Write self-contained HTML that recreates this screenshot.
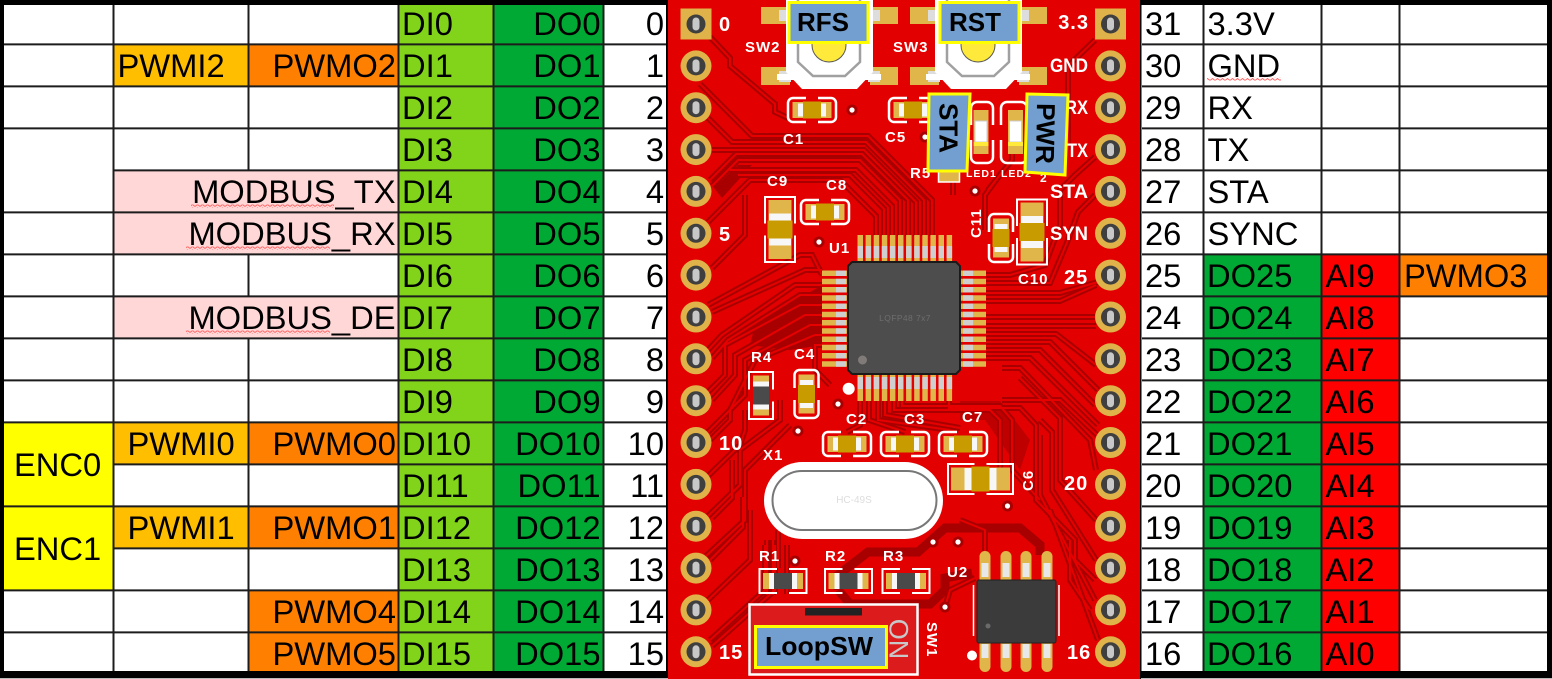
<!DOCTYPE html>
<html><head><meta charset="utf-8"><title>Pinout</title>
<style>
html,body{margin:0;padding:0;background:#000;width:1552px;height:679px;overflow:hidden}
svg{display:block}
.t{font-family:"Liberation Sans",sans-serif;font-size:32.7px;fill:#000}
.e{text-anchor:end}
.s{font-family:"Liberation Sans",sans-serif;font-weight:bold;fill:#fff;font-size:15px;letter-spacing:1px}
.p{font-family:"Liberation Sans",sans-serif;font-weight:bold;fill:#fff;font-size:20px;letter-spacing:1px}
.l{font-family:"Liberation Sans",sans-serif;font-weight:bold;fill:#000;font-size:26px}
.lb{fill:#729fcf;stroke:#ffff00;stroke-width:3}
.g{stroke:#1c1c1c;stroke-width:2}
</style></head><body>
<svg xmlns="http://www.w3.org/2000/svg" width="1552" height="679" viewBox="0 0 1552 679">
<defs>
<pattern id="w" width="5" height="3" patternUnits="userSpaceOnUse"><path d="M0 2.5L2.5 .5L5 2.5" fill="none" stroke="#f66" stroke-width="1"/></pattern>
<g id="pad"><circle r="15.5" fill="#dfb24a"/><circle r="9.5" fill="#3f3f3f"/><rect x="-3.5" y="-6.5" width="7" height="13" rx="3.5" fill="#c8c8c8"/></g>
<g id="pads"><rect x="-15.5" y="-15.5" width="31" height="31" fill="#dfb24a"/><circle r="9.5" fill="#3f3f3f"/><rect x="-3.5" y="-6.5" width="7" height="13" rx="3.5" fill="#c8c8c8"/></g>
<g id="capH"><path d="M-6 -12H-19a5 5 0 0 0-5 5V7a5 5 0 0 0 5 5H-6M6 -12H19a5 5 0 0 1 5 5V7a5 5 0 0 1-5 5H6" fill="none" stroke="#fff" stroke-width="2.5"/><rect x="-19.5" y="-8" width="39" height="16" fill="#e0b54a"/><rect x="-14" y="-6.5" width="5" height="13" fill="#f7f7f7"/><rect x="9" y="-6.5" width="5" height="13" fill="#f7f7f7"/><rect x="-9" y="-8.5" width="18" height="17" fill="#c89b00"/></g>
<g id="resH"><path d="M-6 -12H-23.5V12H-6M6 -12H23.5V12H6" fill="none" stroke="#fff" stroke-width="2"/><rect x="-20" y="-8" width="40" height="16" fill="#e0b54a"/><rect x="-14" y="-8" width="5" height="16" fill="#f7f7f7"/><rect x="9" y="-8" width="5" height="16" fill="#f7f7f7"/><rect x="-9" y="-8" width="18" height="16" fill="#4a4a4a"/></g>
<g id="capB"><path d="M-6 -15H-32.5V15H-6M6 -15H32.5V15H6" fill="none" stroke="#fff" stroke-width="2"/><rect x="-29.5" y="-11.5" width="59" height="23" fill="#e0b54a"/><rect x="-16" y="-11" width="7" height="22" fill="#f7f7f7"/><rect x="9" y="-11" width="7" height="22" fill="#f7f7f7"/><rect x="-9" y="-12.5" width="18" height="25" fill="#c89b00"/></g>
<g id="sw"><rect x="-68" y="7" width="28" height="17" fill="#e0b54a"/><rect x="41" y="7" width="28" height="17" fill="#e0b54a"/><rect x="-68" y="67" width="29" height="18" fill="#e0b54a"/><rect x="41" y="67" width="28" height="18" fill="#e0b54a"/><rect x="-50" y="10" width="12" height="11" fill="#ddd"/><rect x="39" y="10" width="12" height="11" fill="#ddd"/><rect x="-50" y="71" width="12" height="11" fill="#ddd"/><rect x="39" y="71" width="12" height="11" fill="#ddd"/><path d="M-43 0H44V72L28 89H-27L-43 72Z" fill="#fff"/><path d="M-31 0V62L-16 76H16L31 62V0" fill="none" stroke="#a0a0a0" stroke-width="2.5"/><circle cy="45" r="17" fill="#ffe93a" stroke="#555" stroke-width="1"/><rect x="-52" y="74" width="18" height="6" fill="#fff"/><rect x="34" y="74" width="18" height="6" fill="#fff"/></g>
<g id="via"><circle r="5.5" fill="#a80000"/><circle r="2.6" fill="#fff"/></g>
<g id="tr" fill="none">
<path d="M710 37L730 58V66L775 104V112L788 118"/>
<path d="M700 84L752 136H868L932 200V236"/>
<path d="M708 118L732 142H866L924 200V236"/>
<path d="M712 150H864L916 202V236"/>
<path d="M710 180L736 154H862L908 200V236"/>
<path d="M712 186L738 160H860L900 200V236"/>
<path d="M730 170H856L892 206V236"/>
<path d="M738 175H850L884 209V236"/>
<path d="M708 222L725 205L750 180H840L876 216V236"/>
<path d="M712 268L745 235L745 195"/>
<path d="M708 305L800 255L812 255L822 275"/>
<path d="M712 312L805 270H822"/>
<path d="M708 350L722 335L795 285H822"/>
<path d="M712 358L728 340L800 295H822"/>
<path d="M708 392L725 375V345L800 305H822"/>
<path d="M712 400L735 375V355L805 315H822"/>
<path d="M708 432L745 395V360L810 325H822"/>
<path d="M710 440L730 420V410L755 360L815 335H822"/>
<path d="M708 476L740 445L745 430V410"/>
<path d="M708 516L740 485V450L780 420V400"/>
<path d="M712 518L732 498V460"/>
<path d="M706 556L745 520V470L790 425"/>
<path d="M710 560L743 527V497"/>
<path d="M708 600L750 560V510"/>
<path d="M710 640L765 590V545"/>
<path d="M712 646L775 590V545"/>
<path d="M787 594V545M778 568V530"/>
<path d="M767 595V540M773 595V540"/>
<path d="M830 385L815 370V345H822"/>
<path d="M860 401V425L847 432M869 401V420L905 432M878 401V420L950 430"/>
<path d="M885 401V415L960 428M894 401V410H990L1000 420V470"/>
<path d="M902 401V406H1000L1012 420V470L1040 500"/>
<path d="M949 401V408H1020L1036 425V500L1075 540V560L1095 580"/>
<path d="M1012 120V160L988 190M953 172V195M1002 172L985 195V230"/>
<path d="M1095 40L1068 66V150"/>
<path d="M1095 157L1075 175L1060 190V225L1045 265L1010 275H986"/>
<path d="M1095 195L1078 212L1068 240L1050 283H986"/>
<path d="M1098 282L1060 293H986"/>
<path d="M1096 285L1060 301H986"/>
<path d="M1096 317H986"/>
<path d="M1096 326H986"/>
<path d="M986 334H1056L1096 365"/>
<path d="M986 342H1050L1098 390"/>
<path d="M986 350H1040L1095 405"/>
<path d="M986 358H1030L1098 425"/>
<path d="M1097 435L1060 400H1002"/>
<path d="M1002 368H1020L1090 440L1096 470"/>
<path d="M1020 378L1060 418V480L1096 520"/>
<path d="M1040 420L1052 432V490L1096 560"/>
<path d="M1040 435V495L1095 600"/>
<path d="M1050 510L1098 640"/>
<path d="M1090 610L1070 580V540"/>
<path d="M985 551V530L960 520"/>
<path d="M945 607L950 590L975 578"/>
</g>
</defs>

<rect width="1552" height="679" fill="#000"/>

<!-- left table -->
<rect x="4" y="5" width="662" height="666" fill="#fff"/>
<rect x="399" y="5" width="95" height="666" fill="#81d41a"/>
<rect x="494" y="5" width="110" height="666" fill="#00a933"/>
<rect x="114" y="44" width="135" height="42" fill="#ffbf00"/><rect x="249" y="44" width="150" height="42" fill="#ff8000"/>
<rect x="114" y="170" width="285" height="84" fill="#ffd7d7"/><rect x="114" y="296" width="285" height="42" fill="#ffd7d7"/>
<rect x="4" y="422" width="110" height="168" fill="#ffff00"/>
<rect x="114" y="422" width="135" height="42" fill="#ffbf00"/><rect x="249" y="422" width="150" height="42" fill="#ff8000"/>
<rect x="114" y="506" width="135" height="42" fill="#ffbf00"/><rect x="249" y="506" width="150" height="42" fill="#ff8000"/>
<rect x="249" y="590" width="150" height="81" fill="#ff8000"/>
<g class="g">
<path d="M4 44.4H666M4 86.4H666M4 128.4H666M114 170.4H666M4 212.4H666M4 254.4H666M4 296.4H666M4 338.4H666M4 380.4H666M4 422.4H666M114 464.4H666M4 506.4H666M114 548.4H666M4 590.4H666M4 632.4H666" fill="none"/>
<path d="M113.5 5V671M248.5 5V170M248.5 254V296M248.5 338V671M398.5 5V671M493.5 5V671M603.5 5V671" fill="none"/>
</g>
<rect x="0" y="5" width="4" height="666" fill="#000"/>

<!-- right table -->
<rect x="1141.500" y="5" width="405.500" height="666" fill="#fff"/>
<rect x="1204" y="254" width="118" height="417" fill="#00a933"/>
<rect x="1322" y="254" width="78" height="417" fill="#ff0000"/>
<rect x="1400" y="254" width="147" height="42" fill="#ff8000"/>
<g class="g">
<path d="M1142 44.400H1547M1142 86.400H1547M1142 128.400H1547M1142 170.400H1547M1142 212.400H1547M1142 254.400H1547M1142 296.400H1547M1142 338.400H1547M1142 380.400H1547M1142 422.400H1547M1142 464.400H1547M1142 506.400H1547M1142 548.400H1547M1142 590.400H1547M1142 632.400H1547" fill="none"/>
<path d="M1203.500 5V671M1321.500 5V671M1399.500 5V671" fill="none"/>
</g>
<rect x="0" y="678" width="668" height="1" fill="#bbb"/><rect x="1141" y="678" width="411" height="1" fill="#bbb"/>

<!-- left table text -->
<g class="t">
<text x="402" y="35">DI0</text><text x="402" y="77">DI1</text><text x="402" y="119">DI2</text><text x="402" y="161">DI3</text><text x="402" y="203">DI4</text><text x="402" y="245">DI5</text><text x="402" y="287">DI6</text><text x="402" y="329">DI7</text><text x="402" y="371">DI8</text><text x="402" y="413">DI9</text><text x="402" y="455">DI10</text><text x="402" y="497">DI11</text><text x="402" y="539">DI12</text><text x="402" y="581">DI13</text><text x="402" y="623">DI14</text><text x="402" y="665">DI15</text>
</g>
<g class="t e">
<text x="600.500" y="35">DO0</text><text x="600.500" y="77">DO1</text><text x="600.500" y="119">DO2</text><text x="600.500" y="161">DO3</text><text x="600.500" y="203">DO4</text><text x="600.500" y="245">DO5</text><text x="600.500" y="287">DO6</text><text x="600.500" y="329">DO7</text><text x="600.500" y="371">DO8</text><text x="600.500" y="413">DO9</text><text x="600.500" y="455">DO10</text><text x="600.500" y="497">DO11</text><text x="600.500" y="539">DO12</text><text x="600.500" y="581">DO13</text><text x="600.500" y="623">DO14</text><text x="600.500" y="665">DO15</text>
<text x="664" y="35">0</text><text x="664" y="77">1</text><text x="664" y="119">2</text><text x="664" y="161">3</text><text x="664" y="203">4</text><text x="664" y="245">5</text><text x="664" y="287">6</text><text x="664" y="329">7</text><text x="664" y="371">8</text><text x="664" y="413">9</text><text x="664" y="455">10</text><text x="664" y="497">11</text><text x="664" y="539">12</text><text x="664" y="581">13</text><text x="664" y="623">14</text><text x="664" y="665">15</text>
<text x="396" y="77">PWMO2</text><text x="396" y="455">PWMO0</text><text x="396" y="539">PWMO1</text><text x="396" y="623">PWMO4</text><text x="396" y="665">PWMO5</text>
<text x="395.500" y="203">MODBUS_TX</text><text x="395.500" y="245">MODBUS_RX</text><text x="395.500" y="329">MODBUS_DE</text>
</g>
<g class="t">
<text x="117.500" y="77">PWMI2</text><text x="127.500" y="455">PWMI0</text><text x="127.500" y="539">PWMI1</text>
<text x="14" y="476">ENC0</text><text x="14" y="560">ENC1</text>
</g>
<rect x="191" y="204.500" width="143" height="3" fill="url(#w)"/><rect x="186" y="246.500" width="144" height="3" fill="url(#w)"/><rect x="186" y="330.500" width="144" height="3" fill="url(#w)"/>

<!-- right table text -->
<g class="t">
<text x="1145" y="35">31</text><text x="1145" y="77">30</text><text x="1145" y="119">29</text><text x="1145" y="161">28</text><text x="1145" y="203">27</text><text x="1145" y="245">26</text><text x="1145" y="287">25</text><text x="1145" y="329">24</text><text x="1145" y="371">23</text><text x="1145" y="413">22</text><text x="1145" y="455">21</text><text x="1145" y="497">20</text><text x="1145" y="539">19</text><text x="1145" y="581">18</text><text x="1145" y="623">17</text><text x="1145" y="665">16</text>
<text x="1207.500" y="35">3.3V</text><text x="1207.500" y="77">GND</text><text x="1207.500" y="119">RX</text><text x="1207.500" y="161">TX</text><text x="1207.500" y="203">STA</text><text x="1207.500" y="245">SYNC</text>
<text x="1207" y="287">DO25</text><text x="1207" y="329">DO24</text><text x="1207" y="371">DO23</text><text x="1207" y="413">DO22</text><text x="1207" y="455">DO21</text><text x="1207" y="497">DO20</text><text x="1207" y="539">DO19</text><text x="1207" y="581">DO18</text><text x="1207" y="623">DO17</text><text x="1207" y="665">DO16</text>
<text x="1325.500" y="287">AI9</text><text x="1325.500" y="329">AI8</text><text x="1325.500" y="371">AI7</text><text x="1325.500" y="413">AI6</text><text x="1325.500" y="455">AI5</text><text x="1325.500" y="497">AI4</text><text x="1325.500" y="539">AI3</text><text x="1325.500" y="581">AI2</text><text x="1325.500" y="623">AI1</text><text x="1325.500" y="665">AI0</text>
<text x="1404" y="287">PWMO3</text>
</g>
<rect x="1207" y="77.500" width="74" height="3" fill="url(#w)"/>

<!-- PCB -->
<rect x="668" y="0" width="472" height="679" fill="#e20000"/>
<g fill="#a80000">
<path d="M714 188L738 165H752L722 198Z"/>
<path d="M755 325L822 285V345L790 350L750 345Z"/>
<path d="M960 401H1000L1030 440L1020 470L985 420H960Z" opacity=".6"/>
</g>
<g fill="none" stroke="#a80000" stroke-width="9">
<path d="M838 590V575L868 552H918L945 528H1020L1040 545V555"/>
<path d="M838 590L850 604H930L945 590V578L972 573"/>
</g>
<use href="#tr" stroke="#a80000" stroke-width="6"/>
<use href="#tr" stroke="#e60000" stroke-width="2"/>

<!-- pads -->
<use href="#pads" x="696" y="24"/>
<use href="#pad" x="696" y="65.900"/><use href="#pad" x="696" y="107.700"/><use href="#pad" x="696" y="149.600"/><use href="#pad" x="696" y="191.400"/><use href="#pad" x="696" y="233.300"/><use href="#pad" x="696" y="275.100"/><use href="#pad" x="696" y="317"/><use href="#pad" x="696" y="358.800"/><use href="#pad" x="696" y="400.700"/><use href="#pad" x="696" y="442.500"/><use href="#pad" x="696" y="484.400"/><use href="#pad" x="696" y="526.200"/><use href="#pad" x="696" y="568.100"/><use href="#pad" x="696" y="609.900"/><use href="#pad" x="696" y="651.800"/>
<use href="#pads" x="1110.500" y="24"/>
<use href="#pad" x="1110.500" y="65.900"/><use href="#pad" x="1110.500" y="107.700"/><use href="#pad" x="1110.500" y="149.600"/><use href="#pad" x="1110.500" y="191.400"/><use href="#pad" x="1110.500" y="233.300"/><use href="#pad" x="1110.500" y="275.100"/><use href="#pad" x="1110.500" y="317"/><use href="#pad" x="1110.500" y="358.800"/><use href="#pad" x="1110.500" y="400.700"/><use href="#pad" x="1110.500" y="442.500"/><use href="#pad" x="1110.500" y="484.400"/><use href="#pad" x="1110.500" y="526.200"/><use href="#pad" x="1110.500" y="568.100"/><use href="#pad" x="1110.500" y="609.900"/><use href="#pad" x="1110.500" y="651.800"/>

<!-- switches -->
<use href="#sw" x="829" y="0"/><use href="#sw" x="978" y="0"/>

<!-- vias -->
<use href="#via" x="852" y="110"/><use href="#via" x="925" y="137"/><use href="#via" x="975" y="191"/><use href="#via" x="819" y="242"/><use href="#via" x="838" y="404"/><use href="#via" x="798" y="431"/><use href="#via" x="1007.500" y="506"/><use href="#via" x="933" y="542"/><use href="#via" x="958" y="542"/><use href="#via" x="795" y="561"/><use href="#via" x="945" y="607"/>
<circle cx="848.700" cy="388.700" r="6" fill="#fff"/><circle cx="972" cy="655.500" r="5" fill="#fff"/>

<!-- caps -->
<use href="#capH" x="812" y="110"/><use href="#capH" x="913" y="110"/><use href="#capH" x="825" y="212"/>
<use href="#capH" x="847" y="444"/><use href="#capH" x="905" y="444"/><use href="#capH" x="963" y="444"/>
<use href="#capH" transform="translate(1001 238) rotate(90)"/><use href="#capH" transform="translate(806.500 394) rotate(90)"/>
<use href="#capB" transform="translate(780 229.500) rotate(90)"/><use href="#capB" transform="translate(1032 232) rotate(90)"/><use href="#capB" x="980.500" y="479"/>
<use href="#resH" x="783" y="581"/><use href="#resH" x="848.500" y="581"/><use href="#resH" x="906" y="581"/>
<use href="#resH" transform="translate(761 395.500) rotate(90)"/>

<!-- LEDs -->
<g fill="none" stroke="#fff" stroke-width="2.500"><path d="M971 125V108a6 6 0 0 1 6-6H987a6 6 0 0 1 6 6V125M971 140V157a6 6 0 0 0 6 6H987a6 6 0 0 0 6-6V140"/><path d="M1001 125V108a6 6 0 0 1 6-6H1021a6 6 0 0 1 6 6V125M1001 140V157a6 6 0 0 0 6 6H1021a6 6 0 0 0 6-6V140"/></g>
<rect x="973.500" y="110" width="15" height="44" fill="#e0b54a"/><rect x="975" y="121" width="12" height="21" fill="#fff" stroke="#ccc"/><rect x="973.500" y="142" width="15" height="4" fill="#ffe93a"/>
<rect x="1008" y="110" width="15" height="44" fill="#e0b54a"/><rect x="1009.500" y="121" width="12" height="21" fill="#fff" stroke="#ccc"/><rect x="1008" y="142" width="15" height="4" fill="#ffe93a"/>
<rect x="938.500" y="165" width="21" height="17" fill="#e0b54a" stroke="#fff" stroke-width="1.500"/>

<!-- U1 -->
<g fill="#e0b54a">
<path d="M857.500 235h5.500v26h-5.500zM865.600 235h5.500v26h-5.500zM873.700 235h5.500v26h-5.500zM881.800 235h5.500v26h-5.500zM889.900 235h5.500v26h-5.500zM898 235h5.500v26h-5.500zM906.100 235h5.500v26h-5.500zM914.200 235h5.500v26h-5.500zM922.300 235h5.500v26h-5.500zM930.400 235h5.500v26h-5.500zM938.500 235h5.500v26h-5.500zM946.600 235h5.500v26h-5.500z"/>
<path d="M857.500 375h5.500v26h-5.500zM865.600 375h5.500v26h-5.500zM873.700 375h5.500v26h-5.500zM881.800 375h5.500v26h-5.500zM889.900 375h5.500v26h-5.500zM898 375h5.500v26h-5.500zM906.100 375h5.500v26h-5.500zM914.200 375h5.500v26h-5.500zM922.300 375h5.500v26h-5.500zM930.400 375h5.500v26h-5.500zM938.500 375h5.500v26h-5.500zM946.600 375h5.500v26h-5.500z"/>
<path d="M822 270.500h26v5.500h-26zM822 278.700h26v5.500h-26zM822 287h26v5.500h-26zM822 295.200h26v5.500h-26zM822 303.500h26v5.500h-26zM822 311.700h26v5.500h-26zM822 320h26v5.500h-26zM822 328.200h26v5.500h-26zM822 336.500h26v5.500h-26zM822 344.700h26v5.500h-26zM822 353h26v5.500h-26zM822 361.200h26v5.500h-26z"/>
<path d="M961 270.500h25v5.500h-25zM961 278.700h25v5.500h-25zM961 287h25v5.500h-25zM961 295.200h25v5.500h-25zM961 303.500h25v5.500h-25zM961 311.700h25v5.500h-25zM961 320h25v5.500h-25zM961 328.200h25v5.500h-25zM961 336.500h25v5.500h-25zM961 344.700h25v5.500h-25zM961 353h25v5.500h-25zM961 361.200h25v5.500h-25z"/>
</g>
<g fill="#cfcfcf">
<path d="M857.500 246h5.500v12h-5.500zM865.600 246h5.500v12h-5.500zM873.700 246h5.500v12h-5.500zM881.800 246h5.500v12h-5.500zM889.900 246h5.500v12h-5.500zM898 246h5.500v12h-5.500zM906.100 246h5.500v12h-5.500zM914.200 246h5.500v12h-5.500zM922.300 246h5.500v12h-5.500zM930.400 246h5.500v12h-5.500zM938.500 246h5.500v12h-5.500zM946.600 246h5.500v12h-5.500z"/>
<path d="M857.500 377h5.500v12h-5.500zM865.600 377h5.500v12h-5.500zM873.700 377h5.500v12h-5.500zM881.800 377h5.500v12h-5.500zM889.900 377h5.500v12h-5.500zM898 377h5.500v12h-5.500zM906.100 377h5.500v12h-5.500zM914.200 377h5.500v12h-5.500zM922.300 377h5.500v12h-5.500zM930.400 377h5.500v12h-5.500zM938.500 377h5.500v12h-5.500zM946.600 377h5.500v12h-5.500z"/>
<path d="M836 270.500h10v5.500h-10zM836 278.700h10v5.500h-10zM836 287h10v5.500h-10zM836 295.200h10v5.500h-10zM836 303.500h10v5.500h-10zM836 311.700h10v5.500h-10zM836 320h10v5.500h-10zM836 328.200h10v5.500h-10zM836 336.500h10v5.500h-10zM836 344.700h10v5.500h-10zM836 353h10v5.500h-10zM836 361.200h10v5.500h-10z"/>
<path d="M963 270.500h10v5.500h-10zM963 278.700h10v5.500h-10zM963 287h10v5.500h-10zM963 295.200h10v5.500h-10zM963 303.500h10v5.500h-10zM963 311.700h10v5.500h-10zM963 320h10v5.500h-10zM963 328.200h10v5.500h-10zM963 336.500h10v5.500h-10zM963 344.700h10v5.500h-10zM963 353h10v5.500h-10zM963 361.200h10v5.500h-10z"/>
</g>
<path d="M852 262H956L960 266V370L956 374H852L848 370V266Z" fill="#4d4d4d" stroke="#1a1a1a" stroke-width="2"/>
<circle cx="862.500" cy="360" r="4.500" fill="#807a78"/>
<text x="905" y="321" text-anchor="middle" style="font-family:'Liberation Sans',sans-serif;font-size:8.500px;fill:#6e6e6e;letter-spacing:.4px">LQFP48  7x7</text>

<!-- crystal -->
<rect x="764" y="462" width="179" height="77" rx="38.500" fill="#fff"/>
<rect x="772.500" y="471" width="164" height="59" rx="29.500" fill="#fff" stroke="#777" stroke-width="2"/>
<text x="854" y="503" text-anchor="middle" style="font-family:'Liberation Sans',sans-serif;font-size:10px;fill:#ddd">HC-49S</text>

<!-- U2 -->
<g fill="#e0b54a"><rect x="979.500" y="551" width="11" height="34" rx="5.500"/><rect x="1000.500" y="551" width="11" height="34" rx="5.500"/><rect x="1020.500" y="551" width="11" height="34" rx="5.500"/><rect x="1041.500" y="551" width="11" height="34" rx="5.500"/><rect x="979.500" y="638" width="11" height="34" rx="5.500"/><rect x="1000.500" y="638" width="11" height="34" rx="5.500"/><rect x="1020.500" y="638" width="11" height="34" rx="5.500"/><rect x="1041.500" y="638" width="11" height="34" rx="5.500"/></g>
<g fill="#e8e8e8"><rect x="981.500" y="563" width="7" height="14"/><rect x="1002.500" y="563" width="7" height="14"/><rect x="1022.500" y="563" width="7" height="14"/><rect x="1043.500" y="563" width="7" height="14"/><rect x="981.500" y="644" width="7" height="14"/><rect x="1002.500" y="644" width="7" height="14"/><rect x="1022.500" y="644" width="7" height="14"/><rect x="1043.500" y="644" width="7" height="14"/></g>
<path d="M973.500 585V636M1059 585V636" stroke="#fff" stroke-width="1.500" fill="none"/>
<rect x="977" y="580" width="79" height="63" rx="2" fill="#3b3b3b" stroke="#222"/>
<circle cx="988" cy="626" r="2.500" fill="#6a6a6a"/>

<!-- SW1 -->
<rect x="749.500" y="604.500" width="168" height="70" fill="#dc1c1c" stroke="#fff" stroke-width="2.500"/>
<rect x="805" y="608" width="57" height="7.500" fill="#222"/>
<text transform="translate(889.500 639) rotate(90)" text-anchor="middle" style="font-family:'Liberation Sans',sans-serif;font-size:27px;fill:#c8c8c8">ON</text>

<!-- silkscreen -->
<g class="p">
<text x="719" y="31">0</text><text x="719" y="241">5</text><text x="719" y="450">10</text><text x="719" y="659">15</text>
<text x="1089" y="29" text-anchor="end">3.3</text><text x="1064" y="284">25</text><text x="1064" y="490">20</text><text x="1067" y="659">16</text>
</g>
<g class="s" style="font-size:19px;letter-spacing:0">
<text x="1050" y="72" textLength="38" lengthAdjust="spacingAndGlyphs">GND</text><text x="1065" y="114" textLength="23" lengthAdjust="spacingAndGlyphs">RX</text><text x="1067" y="157" textLength="21" lengthAdjust="spacingAndGlyphs">TX</text><text x="1050" y="198" textLength="38" lengthAdjust="spacingAndGlyphs">STA</text><text x="1050" y="240" textLength="38" lengthAdjust="spacingAndGlyphs">SYN</text>
</g>
<g class="s">
<text x="745" y="52">SW2</text><text x="893" y="52">SW3</text>
<text x="783" y="144">C1</text><text x="885" y="142">C5</text><text x="767" y="186">C9</text><text x="826" y="190">C8</text><text x="829" y="253">U1</text>
<text x="1018" y="284">C10</text><text x="751" y="362">R4</text><text x="794" y="359">C4</text><text x="846" y="424">C2</text><text x="904" y="424">C3</text><text x="962" y="422">C7</text>
<text x="763" y="460">X1</text><text x="759" y="561">R1</text><text x="825" y="561">R2</text><text x="883" y="561">R3</text><text x="947" y="577">U2</text><text x="910" y="178">R5</text>
<text transform="translate(981 238) rotate(-90)">C11</text>
<text transform="translate(1033 491) rotate(-90)">C6</text>
<text transform="translate(927 622) rotate(90)">SW1</text>
</g>
<g class="s" style="font-size:10.500px">
<text x="966" y="177">LED1</text><text x="1001" y="177">LED2</text><text x="1040" y="182" style="font-size:12px">2</text>
</g>

<!-- labels -->
<rect class="lb" x="789" y="2.500" width="79" height="40"/>
<text class="l" x="797" y="31">RFS</text>
<rect class="lb" x="940" y="2.500" width="79" height="40"/>
<text class="l" x="949" y="31">RST</text>
<polygon class="lb" points="929,94 970,94 967,171 928,171"/>
<text class="l" transform="translate(939.500 103) rotate(90)">STA</text>
<polygon class="lb" points="1027,94 1068,95 1065,175 1025,172"/>
<text class="l" transform="translate(1037 103) rotate(91)">PWR</text>
<rect class="lb" x="755.500" y="626.500" width="131" height="41"/>
<text class="l" x="765" y="655" textLength="108" lengthAdjust="spacingAndGlyphs">LoopSW</text>
</svg>
</body></html>
